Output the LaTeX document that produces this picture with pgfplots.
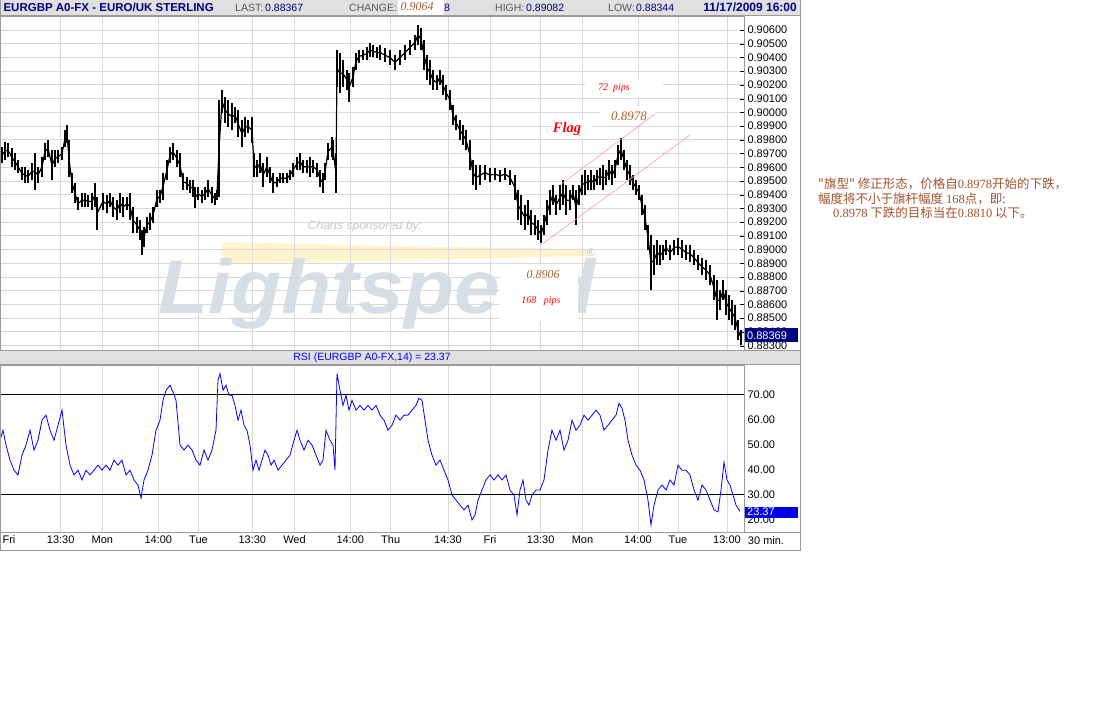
\documentclass[border=0pt]{standalone}
\usepackage{pgfplots}
\pgfplotsset{compat=1.18}
\usepackage{pgfplotstable}
\usepackage{fontspec}
\setmainfont{Liberation Sans}
\newfontfamily\serifit{Liberation Serif}
\newfontfamily\cjk{Noto Sans CJK SC}

\definecolor{gridgray}{HTML}{D9D9D9}
\definecolor{headgray}{HTML}{E0E0E0}
\definecolor{framegray}{HTML}{9A9A9A}
\definecolor{navy}{HTML}{000080}
\definecolor{rsiblue}{HTML}{0000FF}
\definecolor{annbrown}{HTML}{A8622E}
\definecolor{cnbrown}{HTML}{A0522D}
\definecolor{wmark}{HTML}{D8DEE6}
\definecolor{swoosh}{HTML}{FFF4CC}
\definecolor{flagpink}{HTML}{FF9AA6}

% 30-min bars: t = horizontal position, hi / lo = bar range
\pgfplotstableread{
t hi lo
2 0.89747 0.89631
5 0.89784 0.89653
8 0.89777 0.89674
12 0.89740 0.89602
15 0.89704 0.89580
18 0.89653 0.89558
22 0.89602 0.89507
25 0.89602 0.89485
28 0.89580 0.89485
32 0.89631 0.89507
35 0.89704 0.89434
38 0.89602 0.89485
42 0.89674 0.89529
45 0.89777 0.89653
48 0.89798 0.89674
52 0.89725 0.89507
55 0.89725 0.89602
58 0.89725 0.89631
62 0.89747 0.89653
65 0.89871 0.89747
67 0.89908 0.89777
69 0.89798 0.89529
72 0.89558 0.89412
75 0.89485 0.89339
78 0.89383 0.89288
82 0.89412 0.89310
85 0.89412 0.89310
88 0.89397 0.89310
92 0.89412 0.89288
95 0.89485 0.89310
97 0.89383 0.89142
103 0.89412 0.89288
107 0.89397 0.89266
110 0.89412 0.89310
113 0.89383 0.89237
117 0.89361 0.89215
120 0.89412 0.89266
123 0.89383 0.89237
127 0.89383 0.89288
130 0.89412 0.89215
133 0.89310 0.89120
137 0.89237 0.89120
140 0.89215 0.89069
142 0.89142 0.88960
144 0.89164 0.89018
147 0.89237 0.89120
150 0.89266 0.89142
153 0.89310 0.89193
157 0.89434 0.89310
160 0.89434 0.89339
163 0.89558 0.89361
167 0.89653 0.89507
170 0.89747 0.89631
173 0.89777 0.89653
177 0.89725 0.89602
180 0.89704 0.89529
183 0.89558 0.89434
187 0.89529 0.89434
190 0.89507 0.89412
193 0.89507 0.89383
195 0.89456 0.89303
198 0.89456 0.89361
202 0.89434 0.89339
205 0.89456 0.89361
208 0.89507 0.89383
212 0.89456 0.89339
215 0.89412 0.89325
217 0.89434 0.89361
219 0.90090 0.89383
222 0.90163 0.89995
225 0.90112 0.89922
228 0.90090 0.89893
232 0.90068 0.89871
235 0.90039 0.89922
238 0.90017 0.89820
242 0.89944 0.89747
245 0.89966 0.89820
248 0.89944 0.89849
252 0.89966 0.89777
254 0.89704 0.89529
257 0.89653 0.89529
260 0.89704 0.89558
263 0.89631 0.89456
267 0.89674 0.89529
270 0.89602 0.89485
273 0.89558 0.89412
277 0.89529 0.89456
280 0.89558 0.89485
283 0.89558 0.89485
287 0.89558 0.89485
290 0.89580 0.89507
293 0.89631 0.89529
297 0.89674 0.89580
300 0.89704 0.89580
303 0.89653 0.89558
307 0.89653 0.89558
310 0.89674 0.89529
313 0.89653 0.89558
317 0.89631 0.89529
320 0.89580 0.89456
323 0.89558 0.89412
325 0.89631 0.89507
328 0.89777 0.89653
332 0.89820 0.89674
333 0.89798 0.89653
336 0.89704 0.89412
337 0.90454 0.90185
340 0.90433 0.90141
343 0.90382 0.90185
347 0.90309 0.90163
349 0.90287 0.90075
353 0.90331 0.90185
356 0.90433 0.90309
359 0.90454 0.90360
363 0.90454 0.90382
367 0.90476 0.90382
370 0.90506 0.90403
373 0.90491 0.90403
377 0.90476 0.90396
380 0.90491 0.90382
385 0.90469 0.90367
390 0.90454 0.90345
395 0.90418 0.90309
400 0.90454 0.90345
405 0.90491 0.90382
410 0.90527 0.90418
415 0.90564 0.90454
418 0.90637 0.90491
421 0.90615 0.90454
424 0.90527 0.90309
427 0.90418 0.90236
430 0.90382 0.90199
433 0.90309 0.90163
437 0.90272 0.90163
440 0.90309 0.90199
443 0.90272 0.90126
446 0.90199 0.90090
450 0.90163 0.90017
453 0.90054 0.89908
456 0.89981 0.89871
460 0.89944 0.89798
463 0.89908 0.89762
466 0.89871 0.89725
470 0.89798 0.89580
473 0.89653 0.89470
476 0.89616 0.89434
480 0.89616 0.89470
485 0.89616 0.89507
490 0.89594 0.89492
495 0.89594 0.89507
500 0.89580 0.89492
505 0.89594 0.89507
510 0.89580 0.89470
515 0.89543 0.89361
518 0.89434 0.89215
521 0.89397 0.89179
525 0.89325 0.89142
528 0.89361 0.89179
531 0.89288 0.89106
535 0.89252 0.89106
538 0.89215 0.89069
541 0.89179 0.89048
544 0.89252 0.89106
547 0.89361 0.89179
550 0.89434 0.89252
553 0.89470 0.89325
556 0.89397 0.89252
560 0.89470 0.89288
563 0.89507 0.89325
566 0.89470 0.89252
570 0.89434 0.89288
573 0.89470 0.89361
576 0.89434 0.89179
579 0.89470 0.89325
582 0.89543 0.89397
585 0.89580 0.89397
588 0.89543 0.89434
591 0.89580 0.89434
594 0.89543 0.89434
597 0.89580 0.89470
600 0.89594 0.89470
603 0.89616 0.89434
606 0.89580 0.89470
609 0.89653 0.89507
612 0.89616 0.89470
615 0.89653 0.89521
618 0.89762 0.89616
621 0.89813 0.89653
624 0.89725 0.89580
627 0.89653 0.89507
630 0.89616 0.89470
633 0.89543 0.89434
636 0.89507 0.89397
639 0.89470 0.89361
642 0.89397 0.89252
645 0.89325 0.89142
648 0.89179 0.88996
651 0.89106 0.88705
654 0.89033 0.88814
657 0.89069 0.88887
660 0.89033 0.88887
663 0.89033 0.88924
666 0.89069 0.88960
670 0.89033 0.88924
674 0.89069 0.88960
678 0.89084 0.88960
682 0.89069 0.88938
686 0.89033 0.88924
690 0.89033 0.88909
694 0.88996 0.88887
698 0.88960 0.88851
702 0.88938 0.88814
706 0.88924 0.88778
710 0.88887 0.88741
714 0.88814 0.88632
717 0.88778 0.88486
720 0.88705 0.88559
723 0.88778 0.88632
726 0.88705 0.88523
729 0.88668 0.88486
732 0.88632 0.88450
735 0.88596 0.88413
738 0.88486 0.88340
741 0.88413 0.88304
}\pricedata

\pgfplotstableread{
t rsi
0 51.7
3 55.7
6 49.8
10 43.8
14 39.8
18 37.9
22 45.8
26 49.8
30 55.7
34 47.8
38 51.7
42 59.7
46 61.7
50 55.7
54 51.7
58 57.7
62 63.7
66 49.8
70 41.8
74 37.9
78 39.8
82 35.9
86 39.8
90 37.9
94 39.8
98 41.8
102 39.8
106 41.8
110 39.8
114 43.8
118 41.8
122 43.8
126 37.9
130 39.8
134 35.9
138 33.9
141 28.7
144 35.9
148 39.8
152 45.8
156 55.7
160 59.7
163 67.6
166 71.6
170 73.6
173 70.8
176 67.6
180 49.8
184 47.8
188 49.8
192 47.8
196 43.8
200 41.8
204 47.8
208 43.8
212 47.8
216 55.7
218 75.6
220 78.3
223 71.6
226 73.6
229 69.6
232 69.6
235 65.6
238 59.7
241 63.7
244 57.7
247 55.7
250 49.8
253 39.8
256 43.8
259 39.8
262 43.8
265 47.8
268 45.8
271 41.8
274 43.8
278 39.8
282 41.8
286 43.8
290 45.8
294 51.7
297 55.7
300 51.7
304 47.8
308 51.7
312 49.8
316 45.8
320 41.8
323 43.8
326 55.7
330 51.7
333 49.8
335 39.8
337 78.3
340 71.6
343 65.6
346 69.6
349 63.7
352 67.6
356 63.7
360 65.6
364 63.7
368 65.6
372 63.7
376 65.6
380 61.7
384 59.7
388 55.7
392 57.7
396 61.7
400 59.7
404 61.7
408 61.7
412 63.7
416 65.6
419 68.4
422 67.6
425 59.7
428 51.7
432 45.8
436 41.8
440 43.8
444 39.8
448 35.9
452 29.9
456 27.9
460 25.9
464 24.0
468 25.9
472 20.0
475 22.0
478 27.9
482 31.9
486 35.9
490 37.9
494 35.9
498 37.9
502 35.9
506 37.9
510 31.9
514 29.9
517 22.0
520 31.9
523 35.9
526 27.9
529 25.9
532 29.9
536 31.9
540 31.9
544 35.9
548 47.8
552 55.7
556 51.7
560 55.7
564 47.8
568 51.7
572 59.7
576 55.7
580 57.7
584 61.7
588 59.7
592 61.7
596 63.7
600 61.7
604 55.7
608 57.7
612 59.7
616 61.7
619 66.4
622 64.4
625 59.7
628 51.7
632 45.8
636 41.8
640 39.8
644 35.9
648 27.9
651 18.0
654 25.9
658 31.9
662 33.9
666 31.9
670 35.9
674 33.9
678 41.8
682 39.8
686 39.8
690 37.9
694 31.9
698 27.9
702 33.9
706 31.9
710 27.9
714 24.0
718 23.2
721 31.9
724 43.0
727 35.9
730 33.9
733 29.9
736 25.9
740 23.4
}\rsidata

\pgfplotsset{
  chartbase/.style={
    scale only axis, width=744pt, anchor=south west,
    xmin=0, xmax=744,
    axis line style={framegray},
    tick label style={font=\fontsize{11}{13}\selectfont},
    /pgf/number format/assume math mode=true,
    xmajorgrids, ymajorgrids,
    major grid style={gridgray, line width=0.8pt},
    xtick style={draw=none},
    ytick pos=right, yticklabel pos=right,
    tick align=inside, major tick length=4pt,
  },
}

\begin{document}
\begin{tikzpicture}
\path[use as bounding box] (0pt,0pt) rectangle (1103pt,-727pt);
\fill[white] (0pt,0pt) rectangle (1103pt,-727pt);

% watermark behind the price panel
\begin{scope}[x=1pt,y=-1pt]
  \fill[swoosh] (226,242) .. controls (218,246) and (218,258) .. (232,263)
     -- (380,261) -- (588,256) -- (588,249) -- (380,246) -- cycle;
  \node[text=wmark, font=\fontsize{76}{76}\bfseries\itshape, anchor=base west,
        inner sep=0pt, xscale=1.08] at (158,314) {Lightspeed};
  \node[text=black!22, font=\fontsize{12}{14}\itshape] at (365,226) {Charts sponsored by:};
  \node[text=black!25, font=\fontsize{11}{12}\selectfont] at (591,253) {\textregistered};
\end{scope}

% price panel
\begin{axis}[chartbase,
  at={(0pt,-350pt)}, height=334pt,
  ymin=0.88268, ymax=0.90702,
  ytick={0.883,0.884,0.885,0.886,0.887,0.888,0.889,0.890,0.891,0.892,0.893,0.894,
         0.895,0.896,0.897,0.898,0.899,0.900,0.901,0.902,0.903,0.904,0.905,0.906},
  yticklabel style={/pgf/number format/fixed, /pgf/number format/fixed zerofill,
                    /pgf/number format/precision=5},
  ytick style={black},
  xtick={60.7,102.3,158.3,198.5,252.3,294.5,350.3,390.7,448,490,540.7,582.5,638,678,727},
  xticklabels={},
]
% trace through the middle of the bars, then the high-low bars themselves
\addplot[black, line width=1.2pt, mark=none]
  table[x=t, y expr=(\thisrow{hi}+\thisrow{lo})/2] {\pricedata};
\addplot[draw=none, mark=none,
  error bars/.cd, y dir=plus, y explicit, error mark=none,
  error bar style={draw=black, line width=2.4pt}]
  table[x=t, y=lo, y error expr=\thisrow{hi}-\thisrow{lo}] {\pricedata};
\end{axis}

% RSI panel
\begin{axis}[chartbase,
  at={(0pt,-532pt)}, height=167pt,
  ymin=15.2, ymax=81.65,
  ymajorgrids=false,
  ytick={20,30,40,50,60,70},
  yticklabel style={/pgf/number format/fixed, /pgf/number format/fixed zerofill,
                    /pgf/number format/precision=2},
  ytick style={draw=none},
  extra y ticks={30,70}, extra y tick labels={},
  extra y tick style={ymajorgrids=true, major grid style={black, line width=0.7pt}},
  xtick={60.7,102.3,158.3,198.5,252.3,294.5,350.3,390.7,448,490,540.7,582.5,638,678,727},
  xticklabels={13:30,Mon,14:00,Tue,13:30,Wed,14:00,Thu,14:30,Fri,13:30,Mon,14:00,Tue,13:00},
  extra x ticks={9}, extra x tick labels={Fri}, extra x tick style={xmajorgrids=false},
]
\addplot[rsiblue, line width=0.8pt] table[x=t, y=rsi] {\rsidata};
\end{axis}

\begin{scope}[x=1pt,y=-1pt]
  % frame, header and separators
  \draw[framegray] (0.5,0.5) rectangle (800,550);
  \fill[headgray] (0.5,0.5) rectangle (800,15);
  \draw[framegray] (0,15.5) -- (800,15.5);
  \fill[headgray] (0,350.5) rectangle (800,364.5);
  \draw[framegray] (0,350.5) -- (800,350.5) (0,364.5) -- (800,364.5);
  \draw[framegray] (0,532) -- (800,532);
  \node[anchor=west, text=navy, font=\fontsize{11.5}{13}\bfseries] at (0,7.5) {EURGBP A0-FX - EURO/UK STERLING};
  \node[anchor=west, text=black!65, font=\fontsize{10.5}{12}\selectfont, inner sep=0pt] at (235,7.8) {LAST:};
  \node[anchor=west, text=navy, font=\fontsize{10.5}{12}\selectfont, inner sep=0pt] at (265,7.8) {0.88367};
  \node[anchor=west, text=black!65, font=\fontsize{10.5}{12}\selectfont, inner sep=0pt] at (349,7.8) {CHANGE:};
  \fill[white] (398,0.5) rectangle (444,15);
  \node[text=annbrown, font=\fontsize{12}{13}\serifit\itshape] at (417,7) {0.9064};
  \node[anchor=west, text=navy, font=\fontsize{10.5}{12}\selectfont, inner sep=0pt] at (444,7.8) {8};
  \node[anchor=west, text=black!65, font=\fontsize{10.5}{12}\selectfont, inner sep=0pt] at (495,7.8) {HIGH:};
  \node[anchor=west, text=navy, font=\fontsize{10.5}{12}\selectfont, inner sep=0pt] at (526,7.8) {0.89082};
  \node[anchor=west, text=black!65, font=\fontsize{10.5}{12}\selectfont, inner sep=0pt] at (608,7.8) {LOW:};
  \node[anchor=west, text=navy, font=\fontsize{10.5}{12}\selectfont, inner sep=0pt] at (636,7.8) {0.88344};
  \node[anchor=east, text=navy, font=\fontsize{12}{13}\bfseries, inner sep=0pt] at (797,7.5) {11/17/2009 16:00};
  \node[text=rsiblue, font=\fontsize{10.5}{12}\selectfont] at (372,357.5) {RSI (EURGBP A0-FX,14) = 23.37};
  \node[font=\fontsize{11}{13}\selectfont] at (766,541) {30 min.};
  % last value boxes
  \fill[navy] (745,328) rectangle (798,342);
  \node[text=white, font=\fontsize{11}{12}\selectfont, anchor=west, inner sep=0pt] at (747,336) {0.88369};
  \fill[rsiblue!92!black] (745,506.5) rectangle (798,517.5);
  \node[text=white, font=\fontsize{11}{12}\selectfont, anchor=west, inner sep=0pt] at (747,512) {23.37};
  % flag annotations
  \fill[white] (585,80) rectangle (663,97);
  \node[text=red, font=\fontsize{10}{11}\serifit\itshape] at (614,88) {72\ \ pips};
  \fill[white] (600,107) rectangle (655,124);
  \node[text=annbrown, font=\fontsize{13}{14}\serifit\itshape] at (629,116) {0.8978};
  \fill[white] (552,120) rectangle (592,139);
  \node[text=red, font=\fontsize{14.5}{15}\serifit\bfseries\itshape] at (567,129) {Flag};
  \fill[white] (500,264) rectangle (578,322);
  \node[text=annbrown, font=\fontsize{12}{13}\serifit\itshape] at (543,275) {0.8906};
  \node[text=red, font=\fontsize{10}{11}\serifit\itshape] at (541,301) {168\ \ \ pips};
  \draw[flagpink, line width=0.6pt] (560,185) -- (655,114);
  \draw[flagpink, line width=0.6pt] (541,245) -- (690,135);
  % commentary
  \node[anchor=west, text=cnbrown, font=\fontsize{12.5}{14}\cjk, inner sep=0pt] at (818,184)
    {"旗型" 修正形态，价格自{\serifit 0.8978}开始的下跌，};
  \node[anchor=west, text=cnbrown, font=\fontsize{12.5}{14}\cjk, inner sep=0pt] at (818,199)
    {幅度将不小于旗杆幅度 {\serifit 168}点，即:};
  \node[anchor=west, text=cnbrown, font=\fontsize{12.5}{14}\cjk, inner sep=0pt] at (833,213)
    {{\serifit 0.8978} 下跌的目标当在{\serifit 0.8810} 以下。};
\end{scope}
\end{tikzpicture}
\end{document}
